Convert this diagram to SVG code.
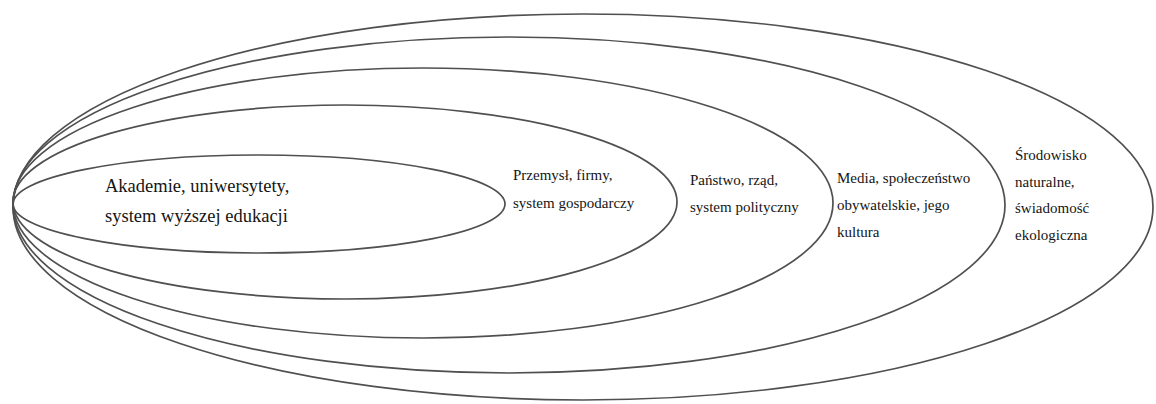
<svg xmlns="http://www.w3.org/2000/svg" width="1156" height="404" viewBox="0 0 1156 404">
<style>
.ring{fill:none;stroke:#505050;stroke-width:1.7}
text{font-family:"Liberation Serif","Times New Roman",serif;fill:#151515}
.big text{font-size:18.5px}
.sm text{font-size:15px}
</style>
<rect width="1156" height="404" fill="#ffffff"/>
<g id="ring-srodowisko"><ellipse class="ring" cx="583" cy="207" rx="570" ry="193"/></g>
<g id="ring-media"><ellipse class="ring" cx="509" cy="205" rx="496" ry="168"/></g>
<g id="ring-panstwo"><ellipse class="ring" cx="423" cy="203" rx="410" ry="135"/></g>
<g id="ring-przemysl"><ellipse class="ring" cx="345" cy="202" rx="332" ry="97"/></g>
<g id="ring-akademie"><ellipse class="ring" cx="259" cy="204" rx="246" ry="49"/></g>
<g id="label-akademie" class="big">
<text x="105" y="192">Akademie, uniwersytety,</text>
<text x="105" y="222">system wyższej edukacji</text>
</g>
<g id="label-przemysl" class="sm">
<text x="513" y="180">Przemysł, firmy,</text>
<text x="513" y="208">system gospodarczy</text>
</g>
<g id="label-panstwo" class="sm">
<text x="690" y="185">Państwo, rząd,</text>
<text x="690" y="212">system polityczny</text>
</g>
<g id="label-media" class="sm">
<text x="837" y="183">Media, społeczeństwo</text>
<text x="837" y="210">obywatelskie, jego</text>
<text x="837" y="237">kultura</text>
</g>
<g id="label-srodowisko" class="sm">
<text x="1015" y="160">Środowisko</text>
<text x="1015" y="187">naturalne,</text>
<text x="1015" y="213">świadomość</text>
<text x="1015" y="240">ekologiczna</text>
</g>
</svg>
